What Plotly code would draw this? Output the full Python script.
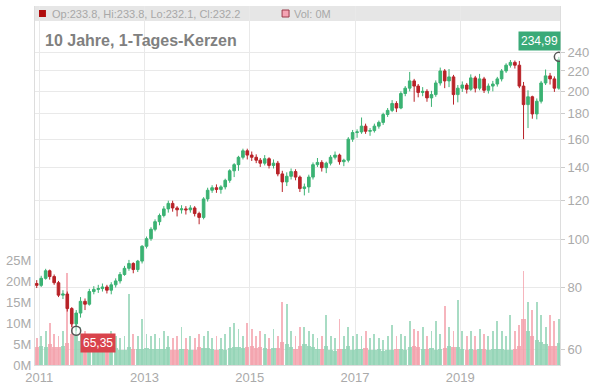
import math
import pandas as pd
import plotly.graph_objects as go

# ---------------- data (monthly candles) ----------------
dates = pd.date_range("2010-12-01", periods=120, freq="MS") + pd.Timedelta(days=14)

opens = [
    81.5, 80.8, 83.5, 86.5, 84.2, 81.8, 77.2, 77.6, 72.5, 67.5, 71.0, 75.0,
    74.0, 78.5, 79.3, 79.6, 80.2, 79.0, 81.0, 82.5, 85.0, 87.5, 89.5, 87.0,
    90.5, 97.0, 100.5, 105.0, 108.8, 112.0, 115.5, 118.5, 116.0, 115.0, 115.5, 115.0,
    116.0, 113.0, 111.0, 121.0, 126.0, 127.5, 126.5, 128.0, 132.0, 138.0, 142.0, 147.0,
    151.5, 148.5, 147.0, 145.0, 143.0, 146.0, 141.5, 143.0, 136.0, 131.0, 134.5, 137.5,
    134.0, 127.0, 128.0, 134.0, 142.0, 143.5, 140.0, 143.0, 147.0, 148.5, 144.0, 145.0,
    160.0, 165.0, 165.5, 170.0, 166.0, 166.5, 170.0, 173.0, 179.5, 183.0, 189.0, 185.0,
    198.0, 203.0, 210.0, 205.0, 199.0, 200.0, 194.0, 197.0, 208.0, 220.0, 210.0, 214.0,
    197.0, 203.0, 206.0, 202.0, 213.0, 203.0, 212.0, 201.0, 205.0, 207.0, 212.0, 220.0,
    226.0, 229.0, 226.0, 205.0, 188.0, 195.0, 180.0, 191.0, 208.0, 215.0, 212.0, 203.0,
]
closes = [
    80.8, 83.5, 86.5, 84.2, 81.8, 77.2, 77.6, 72.5, 67.5, 71.0, 75.0, 74.0,
    78.5, 79.3, 79.6, 80.2, 79.0, 81.0, 82.5, 85.0, 87.5, 89.5, 87.0, 90.5,
    97.0, 100.5, 105.0, 108.8, 112.0, 115.5, 118.5, 116.0, 115.0, 115.5, 115.0, 116.0,
    113.0, 111.0, 121.0, 126.0, 127.5, 126.5, 128.0, 132.0, 138.0, 142.0, 147.0, 151.5,
    148.5, 147.0, 145.0, 143.0, 146.0, 141.5, 143.0, 136.0, 131.0, 134.5, 137.5, 134.0,
    127.0, 128.0, 134.0, 142.0, 143.5, 140.0, 143.0, 147.0, 148.5, 144.0, 145.0, 160.0,
    165.0, 165.5, 170.0, 166.0, 166.5, 170.0, 173.0, 179.5, 183.0, 189.0, 185.0, 198.0,
    203.0, 210.0, 205.0, 199.0, 200.0, 194.0, 197.0, 208.0, 220.0, 210.0, 214.0, 197.0,
    203.0, 206.0, 202.0, 213.0, 203.0, 212.0, 201.0, 205.0, 207.0, 212.0, 220.0, 226.0,
    229.0, 226.0, 205.0, 188.0, 195.0, 180.0, 191.0, 208.0, 215.0, 212.0, 203.0, 232.2,
]
highs = [
    82.8, 84.5, 87.3, 87.0, 85.0, 82.5, 79.0, 78.5, 73.0, 72.0, 76.5, 76.0,
    79.5, 80.5, 81.0, 81.5, 81.0, 82.0, 83.5, 86.0, 88.5, 91.0, 90.0, 91.0,
    97.5, 101.5, 106.0, 110.0, 113.0, 117.0, 120.0, 120.0, 117.0, 117.5, 117.0, 117.5,
    117.0, 114.0, 122.0, 127.5, 129.0, 129.5, 129.0, 133.0, 139.0, 143.0, 148.0, 153.0,
    153.0, 151.0, 149.0, 146.5, 148.5, 147.0, 145.5, 144.5, 138.0, 137.0, 139.5, 139.0,
    135.0, 130.0, 135.5, 143.5, 146.5, 145.0, 144.0, 148.5, 151.0, 149.5, 146.0, 161.5,
    167.0, 167.5, 177.0, 172.0, 168.5, 172.0, 174.5, 181.0, 185.0, 192.0, 191.0, 200.0,
    205.0, 219.0, 212.0, 207.0, 204.0, 202.0, 200.5, 210.5, 223.5, 222.0, 222.0, 216.0,
    206.0, 209.5, 208.0, 216.5, 215.0, 217.0, 214.0, 207.5, 210.0, 214.0, 222.0, 228.0,
    231.5, 231.0, 230.5, 209.0, 201.0, 196.0, 193.5, 210.0, 221.5, 218.0, 214.5, 234.99,
]
lows = [
    79.8, 80.2, 83.0, 83.0, 81.0, 76.5, 75.8, 71.5, 66.5, 65.35, 69.5, 72.0,
    73.5, 77.5, 78.0, 78.5, 77.8, 77.5, 80.0, 81.5, 84.5, 86.5, 85.5, 86.0,
    89.5, 96.0, 99.5, 104.0, 107.0, 111.0, 113.5, 114.0, 111.5, 113.0, 112.5, 113.5,
    111.5, 107.5, 110.0, 119.5, 124.5, 124.5, 124.0, 126.5, 130.5, 134.0, 138.0, 145.5,
    145.5, 144.5, 143.0, 140.5, 141.5, 139.5, 139.5, 134.5, 125.0, 128.5, 132.5, 132.0,
    125.0, 123.0, 124.5, 132.5, 140.5, 137.5, 136.5, 141.5, 145.5, 142.0, 141.0, 143.5,
    158.0, 161.0, 164.0, 164.0, 162.5, 165.0, 168.0, 171.0, 177.5, 181.5, 181.5, 184.0,
    195.5, 200.0, 190.5, 194.5, 195.5, 190.5, 186.0, 195.0, 205.5, 203.0, 204.0, 188.0,
    190.0, 199.5, 198.0, 200.5, 199.0, 201.0, 198.5, 198.0, 200.0, 204.5, 209.5, 218.0,
    223.5, 222.5, 203.0, 160.0, 168.5, 176.0, 175.5, 189.0, 206.0, 206.5, 199.5, 201.5,
]
# volume in millions: typical daily level per month and the month's peak day
vol_avg = [
    4.2, 4.5, 4.3, 5.0, 4.2, 4.4, 4.6, 5.2, 7.5, 6.8, 5.8, 5.0,
    4.2, 4.0, 3.8, 3.9, 3.7, 4.2, 4.0, 3.6, 3.5, 4.2, 3.8, 3.7,
    3.8, 4.0, 3.9, 3.8, 3.7, 3.9, 4.2, 3.6, 3.5, 3.8, 3.7, 3.6,
    3.5, 4.2, 4.0, 4.1, 3.8, 3.6, 3.7, 3.5, 4.0, 4.2, 4.4, 4.0,
    4.2, 4.6, 4.0, 4.2, 4.0, 3.8, 4.1, 4.0, 5.5, 5.0, 4.2, 3.9,
    4.5, 5.0, 4.6, 4.2, 3.9, 3.8, 4.5, 3.6, 3.4, 3.8, 3.7, 4.5,
    3.6, 3.8, 3.9, 4.0, 3.6, 3.5, 3.7, 3.4, 3.5, 3.6, 3.7, 3.8,
    3.5, 4.2, 4.5, 4.2, 3.8, 3.8, 4.0, 3.6, 3.7, 4.0, 4.6, 4.2,
    4.4, 3.8, 3.5, 3.9, 3.6, 3.8, 3.7, 3.5, 3.9, 3.7, 3.8, 3.5,
    3.6, 3.8, 4.5, 11.0, 8.0, 7.0, 6.0, 5.5, 5.0, 4.5, 4.6, 5.2,
]
vol_max = [
    6.5, 7.0, 8.0, 10.0, 7.5, 7.0, 8.0, 22.0, 13.0, 11.0, 9.0, 8.0,
    7.0, 7.5, 6.5, 7.0, 6.5, 8.0, 7.0, 6.5, 7.0, 17.0, 7.5, 7.0,
    11.0, 7.5, 7.0, 7.5, 6.5, 8.0, 7.0, 6.5, 7.0, 9.0, 6.5, 7.0,
    6.5, 7.5, 7.0, 8.0, 6.5, 7.0, 6.5, 7.5, 9.0, 10.0, 8.5, 7.0,
    10.0, 8.5, 7.0, 8.0, 7.5, 6.5, 8.5, 7.0, 15.0, 14.5, 8.0, 7.0,
    9.0, 9.0, 8.0, 7.5, 6.5, 7.0, 12.0, 7.0, 6.5, 11.0, 7.0, 9.0,
    7.0, 7.5, 7.0, 8.0, 6.5, 7.5, 6.5, 6.0, 7.0, 9.5, 7.0, 7.5,
    7.0, 10.5, 8.5, 8.0, 9.0, 7.0, 8.0, 10.5, 7.5, 14.0, 9.0, 8.0,
    15.5, 8.0, 7.0, 8.0, 7.0, 8.5, 7.5, 7.0, 8.0, 10.5, 8.0, 7.0,
    12.0, 8.0, 9.5, 22.5, 15.0, 13.0, 15.0, 12.0, 9.0, 12.0, 10.5, 11.0,
]
year_ticks = ["2011-01-01", "2013-01-01", "2015-01-01", "2017-01-01", "2019-01-01"]
year_labels = ["2011", "2013", "2015", "2017", "2019"]
price_ticks = [60, 80, 100, 120, 140, 160, 180, 200, 220, 240]
vol_ticks = [0, 5, 10, 15, 20, 25]
header_text = "Op:233.8, Hi:233.8, Lo:232.1, Cl:232.2"
header_vol = "Vol: 0M"
title_text = "10 Jahre, 1-Tages-Kerzen"

# ---------------- geometry helpers ----------------
W, H = 595, 391
ML, MR, MT, MB = 35, 32, 6, 26
PW, PH = W - ML - MR, H - MT - MB


def px(xp):
    return (xp - ML) / PW


def py(yp):
    return (H - MB - yp) / PH


UP_C, DN_C = "#3bb273", "#b82228"
VUP_C, VDN_C = "#93d4b6", "#f4a3ad"
up = [c >= o for o, c in zip(opens, closes)]
vol_colors = [VUP_C if u else VDN_C for u in up]
DAY = 86400000

fig = go.Figure()
fig.add_trace(go.Bar(x=dates, y=vol_max, width=6 * DAY, yaxis="y",
                     marker=dict(color=vol_colors, line_width=0), opacity=0.8,
                     hoverinfo="skip"))
fig.add_trace(go.Bar(x=dates, y=vol_avg, width=30 * DAY, yaxis="y",
                     marker=dict(color=vol_colors, line_width=0), opacity=0.85,
                     hoverinfo="skip"))
fig.add_trace(go.Candlestick(
    x=dates, open=opens, high=highs, low=lows, close=closes, yaxis="y2",
    increasing=dict(line=dict(color=UP_C, width=1), fillcolor=UP_C),
    decreasing=dict(line=dict(color=DN_C, width=1), fillcolor=DN_C),
    whiskerwidth=0))

i_min = min(range(len(lows)), key=lambda i: lows[i])
i_max = max(range(len(highs)), key=lambda i: highs[i])
fig.add_trace(go.Scatter(
    x=[dates[i_min], dates[i_max]], y=[lows[i_min], highs[i_max]], yaxis="y2",
    mode="markers",
    marker=dict(symbol="circle", size=9, color="rgba(255,255,255,0.5)",
                line=dict(color="#555555", width=1.5)),
    hoverinfo="skip"))

fmt = lambda v: f"{v:.2f}".replace(".", ",")
annotations = [
    dict(x=dates[i_min], y=math.log10(lows[i_min]), xref="x", yref="y2",
         text=fmt(lows[i_min]), showarrow=False, xanchor="left", yanchor="middle",
         xshift=4, yshift=-12, bgcolor="#d9434c", borderpad=2,
         font=dict(color="white", size=12)),
    dict(x=dates[i_max], y=math.log10(highs[i_max]), xref="x", yref="y2",
         text=fmt(highs[i_max]), showarrow=False, xanchor="right", yanchor="bottom",
         xshift=2, yshift=6, bgcolor="#3aaa78", borderpad=2,
         font=dict(color="white", size=12)),
    dict(x=px(43), y=py(40), xref="paper", yref="paper", text=f"<b>{title_text}</b>",
         showarrow=False, xanchor="left", yanchor="middle",
         font=dict(size=16, color="#808080")),
    dict(x=px(50), y=py(13.5), xref="paper", yref="paper", text=header_text,
         showarrow=False, xanchor="left", yanchor="middle",
         font=dict(size=11, color="#a8a8a8")),
    dict(x=px(293), y=py(13.5), xref="paper", yref="paper", text=header_vol,
         showarrow=False, xanchor="left", yanchor="middle",
         font=dict(size=11, color="#a8a8a8")),
]

shapes = [
    dict(type="rect", xref="paper", yref="paper", x0=0, x1=1, y0=py(21), y1=1,
         fillcolor="#e6e6e6", line=dict(width=0), layer="below"),
    dict(type="rect", xref="paper", yref="paper", x0=px(39), x1=px(46), y0=py(17), y1=py(10),
         fillcolor="#b00d0d", line=dict(width=0)),
    dict(type="rect", xref="paper", yref="paper", x0=px(283.5), x1=px(290.5), y0=py(17), y1=py(10),
         fillcolor="#f5a3b3", line=dict(width=1, color="#9b3b4a")),
]

fig.update_layout(
    width=W, height=H, margin=dict(l=ML, r=MR, t=MT, b=MB, pad=0),
    paper_bgcolor="white", plot_bgcolor="white", showlegend=False,
    barmode="overlay", bargap=0, boxgap=0.08,
    font=dict(family="Liberation Sans, Arial, sans-serif", color="#aaaaaa", size=13),
    xaxis=dict(type="date", range=["2010-12-03", "2020-11-23"],
               tickvals=year_ticks, ticktext=year_labels, showgrid=True,
               gridcolor="#e9e9e9", gridwidth=1, rangeslider=dict(visible=False),
               showline=True, linecolor="#dddddd", ticks="",
               tickfont=dict(size=13, color="#aaaaaa"), zeroline=False),
    yaxis=dict(range=[0, 85.5], tickvals=vol_ticks, ticktext=[f"{v}M" for v in vol_ticks],
               showgrid=False, side="left", showline=True, linecolor="#dddddd",
               zeroline=False, ticks="", tickfont=dict(size=13, color="#aaaaaa")),
    yaxis2=dict(type="log", overlaying="y", side="right",
                range=[math.log10(55.7), math.log10(298)], tickvals=price_ticks,
                ticktext=[str(v) for v in price_ticks], showgrid=True,
                gridcolor="#e9e9e9", ticks="outside", ticklen=4, tickcolor="#cccccc",
                showline=True, linecolor="#dddddd", zeroline=False,
                tickfont=dict(size=13, color="#aaaaaa")),
    annotations=annotations, shapes=shapes,
)

fig.write_html("out.html", config={"displayModeBar": False},
               post_script="document.body.style.margin='0';document.body.style.padding='0';")
